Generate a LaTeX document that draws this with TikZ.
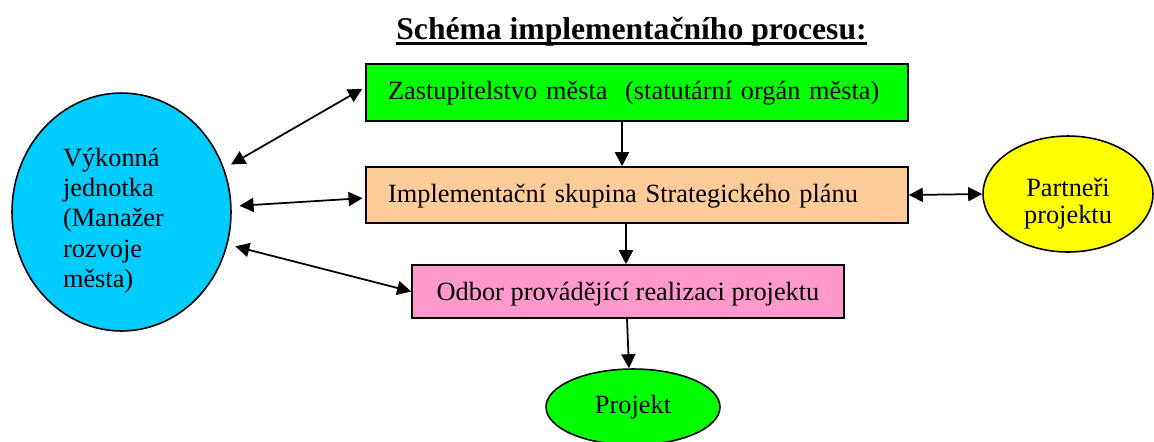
\documentclass[tikz,border=0pt]{standalone}
\usepackage{fontspec}
\setmainfont{Liberation Serif}
\usetikzlibrary{arrows.meta,shapes.geometric}
\definecolor{zelena}{HTML}{00FF00}
\definecolor{oranzova}{HTML}{FFCC99}
\definecolor{ruzova}{HTML}{FF99CC}
\definecolor{modra}{HTML}{00CCFF}
\definecolor{zluta}{HTML}{FFFF00}
\tikzset{
    box/.style={draw, line width=0.9pt, inner sep=0pt, text height=11pt, text depth=2.5pt, font=\fontsize{15}{17.25}\selectfont},
    oval/.style={draw, ellipse, line width=0.9pt, inner sep=0pt, font=\fontsize{15}{17.25}\selectfont},
    tok/.style={-{Triangle[length=8pt,width=8pt]}, line width=1pt},
    oba/.style={{Triangle[length=8pt,width=8pt]}-{Triangle[length=8pt,width=8pt]}, line width=1pt},
}

\begin{document}
\begin{tikzpicture}[x=0.02cm, y=-0.02cm]
    \useasboundingbox (0,0) rectangle (1154,441);
    \node[font=\fontsize{18}{22}\selectfont\bfseries, inner sep=0pt, anchor=base] (nadpis) at (631.5,39) {Schéma implementačního procesu:};
    \draw[line width=1.8pt] ([yshift=-2.6pt]nadpis.base west) -- ([yshift=-2.6pt]nadpis.base east);
    \node[box, fill=zelena, minimum width=10.84cm, minimum height=1.14cm, text width=9.96cm, align=left] (zast) at (637,92.5) {Zastupitelstvo města\ \ (statutární orgán města)};
    \node[box, fill=oranzova, minimum width=10.84cm, minimum height=1.12cm, text width=9.96cm, align=left] (impl) at (637,195) {Implementační skupina Strategického plánu};
    \node[box, fill=ruzova, minimum width=8.64cm, minimum height=1.06cm, text height=12pt, text depth=1.2pt] (odbor) at (628,291.5) {Odbor provádějící realizaci projektu};
    \node[oval, fill=zelena, minimum width=3.48cm, minimum height=1.52cm] (projekt) at (633,407) {Projekt};
    \node[oval, fill=modra, minimum width=4.38cm, minimum height=4.76cm, text width=2.34cm, align=left] (vykon) at (121.5,212) {\rule{0pt}{20pt}Výkonná\\ jednotka\\ (Manažer\\ rozvoje\\ města)};
    \node[oval, fill=zluta, minimum width=3.4cm, minimum height=2.32cm, align=center, font=\fontsize{15}{15.5}\selectfont] (partneri) at (1068,194) {\rule{0pt}{21pt}Partneři\\ projektu};
    \draw[tok] ([xshift=-0.3cm]zast.south) -- ([xshift=-0.3cm]impl.north);
    \draw[tok] ([xshift=-0.22cm]impl.south) -- ([xshift=-0.04cm]odbor.north);
    \draw[tok] ([xshift=-0.02cm]odbor.south) -- ([xshift=-0.08cm]projekt.north);
    \draw[oba, shorten <=4.5pt, shorten >=2pt] (vykon.23) -- ([yshift=0.11cm]zast.west);
    \draw[oba, shorten <=4.5pt, shorten >=1.5pt] (vykon.3) -- ([yshift=-0.06cm]impl.west);
    \draw[oba, shorten <=4.5pt] (vykon.-17) -- (odbor.west);
    \draw[oba] (impl.east) -- (partneri.west);
\end{tikzpicture}
\end{document}
